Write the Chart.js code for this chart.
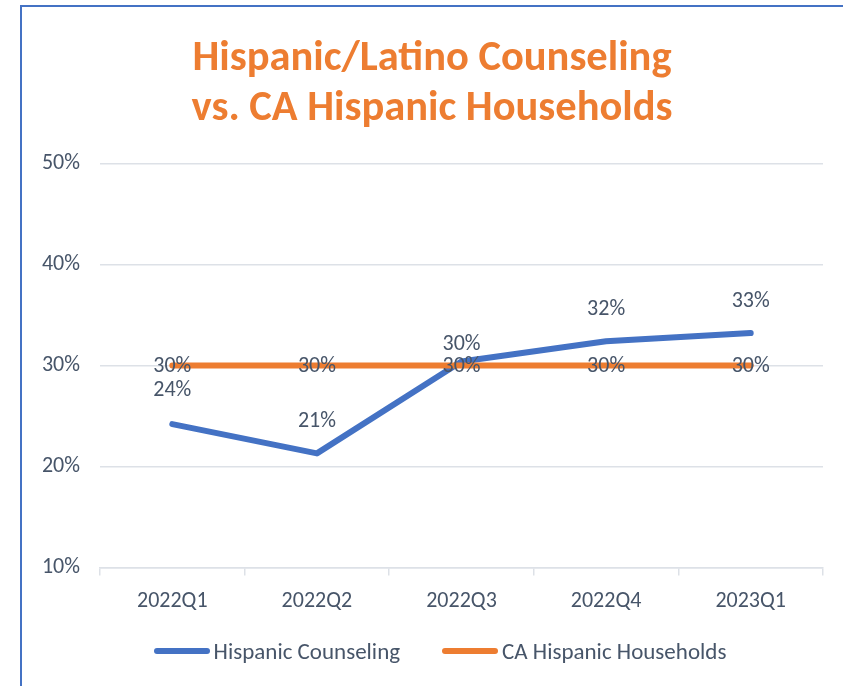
<!DOCTYPE html>
<html>
<head>
<meta charset="utf-8">
<script src="https://cdn.jsdelivr.net/npm/chart.js@4.4.1/dist/chart.umd.min.js"></script>
<style>
  html, body { margin: 0; padding: 0; background: #fff; overflow: hidden; }
  #frame {
    position: absolute; left: 20px; top: 5px; width: 900px; height: 800px;
    border: 2px solid #4472C4; box-sizing: border-box;
  }
  #chart { position: absolute; left: 0; top: 0; }
  #legend {
    position: absolute; left: 37px; width: 806px; top: 636px; height: 30px;
    display: flex; justify-content: center; align-items: center; gap: 42px;
    font: 23px Calibri, Carlito, Lato, sans-serif; color: #475569;
  }
  .item { display: flex; align-items: center; gap: 4px; white-space: nowrap; }
  .swatch { width: 56px; height: 6px; border-radius: 3px; }
</style>
</head>
<body>
<div id="frame"></div>
<canvas id="chart" width="843" height="686"></canvas>
<div id="legend"></div>
<script>
// ───── data ─────
const quarters = ['2022Q1', '2022Q2', '2022Q3', '2022Q4', '2023Q1'];
const hispanicCounseling = [24.2, 21.3, 30.4, 32.4, 33.2];
const caHouseholds = [30, 30, 30, 30, 30];
const yTicks = [10, 20, 30, 40, 50];

const BLUE = '#4472C4';
const ORANGE = '#ED7D31';
const TEXT = '#475569';
const GRID = '#dde1e7';
const FONT = 'Calibri, Carlito, Lato, sans-serif';

// Draws the value labels next to each point (Excel-style data labels).
const pointLabels = {
  id: 'pointLabels',
  afterDatasetsDraw(chart, args, opts) {
    const { ctx } = chart;
    ctx.save();
    ctx.font = `${opts.size}px ${FONT}`;
    ctx.fillStyle = TEXT;
    ctx.textAlign = 'center';
    ctx.textBaseline = 'middle';
    chart.data.datasets.forEach((ds, i) => {
      const meta = chart.getDatasetMeta(i);
      const lift = opts.lift[i] || [];
      meta.data.forEach((pt, j) => {
        const v = ds.data[j];
        ctx.fillText(Math.round(v) + '%', pt.x, pt.y - (lift[j] || 0));
      });
    });
    ctx.restore();
  },
};

const chart = new Chart(document.getElementById('chart'), {
  type: 'line',
  data: {
    labels: quarters,
    datasets: [
      {
        label: 'Hispanic Counseling',
        data: hispanicCounseling,
        borderColor: BLUE,
        backgroundColor: BLUE,
        borderWidth: 6,
        borderCapStyle: 'round',
        borderJoinStyle: 'round',
        pointRadius: 0,
        tension: 0,
        order: 2,
      },
      {
        label: 'CA Hispanic Households',
        data: caHouseholds,
        borderColor: ORANGE,
        backgroundColor: ORANGE,
        borderWidth: 6,
        borderCapStyle: 'round',
        pointRadius: 0,
        tension: 0,
        order: 1,
      },
    ],
  },
  options: {
    responsive: false,
    animation: false,
    layout: { padding: { left: 41, right: 20, top: 0, bottom: 58 } },
    plugins: {
      tooltip: { enabled: false },
      legend: { display: false },
      pointLabels: { size: 22, lift: [[34, 32, 17, 32, 32], [-1, -1, -1, -1, -1]] },
      title: {
        display: true,
        text: ['Hispanic/Latino Counseling', 'vs. CA Hispanic Households'],
        color: ORANGE,
        font: { family: FONT, size: 42.5, weight: 'bold', lineHeight: 1.18 },
        padding: { top: 34, bottom: 29 },
      },
    },
    scales: {
      x: {
        offset: true,
        grid: {
          offset: true,
          drawOnChartArea: false,
          drawTicks: true,
          tickLength: 8,
          color: GRID,
          lineWidth: 1.5,
        },
        border: { display: true, color: GRID, width: 1.5 },
        ticks: { color: TEXT, padding: 13, font: { family: FONT, size: 22 } },
      },
      y: {
        min: 10,
        max: 50,
        afterBuildTicks: (scale) => { scale.ticks = yTicks.map((v) => ({ value: v })); },
        afterFit: (scale) => { scale.width = 59; },
        grid: { color: GRID, lineWidth: 1.5, drawTicks: false },
        border: { display: false },
        ticks: {
          color: TEXT,
          padding: 20,
          font: { family: FONT, size: 22 },
          callback: (v) => v + '%',
        },
      },
    },
  },
  plugins: [pointLabels],
});

// HTML legend built from the chart's datasets.
const legendEl = document.getElementById('legend');
chart.data.datasets.forEach((ds) => {
  const item = document.createElement('div');
  item.className = 'item';
  const swatch = document.createElement('span');
  swatch.className = 'swatch';
  swatch.style.background = ds.borderColor;
  const label = document.createElement('span');
  label.textContent = ds.label;
  item.append(swatch, label);
  legendEl.append(item);
});
</script>
</body>
</html>
